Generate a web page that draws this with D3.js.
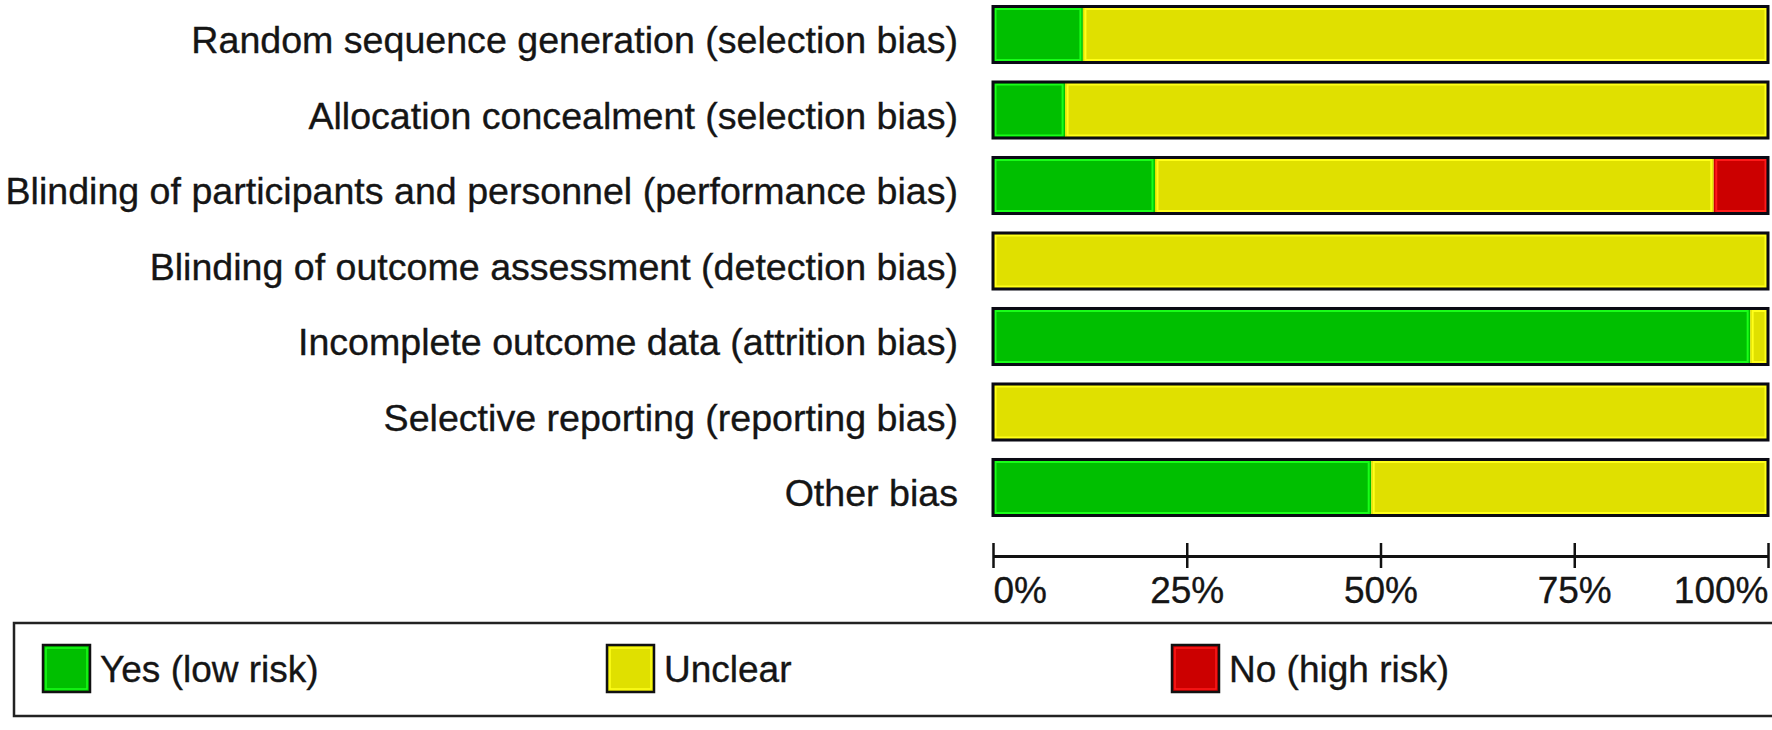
<!DOCTYPE html>
<html><head><meta charset="utf-8">
<script src="https://cdn.jsdelivr.net/npm/d3@7"></script>
<style>
html,body{margin:0;padding:0;background:#fff;overflow:hidden}
text{font-family:"Liberation Sans",Arial,sans-serif;fill:#151515;stroke:#151515;stroke-width:0.35px}
</style></head>
<body>
<svg id="c" width="1772" height="730"></svg>
<script>
const categories = [
  "Random sequence generation (selection bias)",
  "Allocation concealment (selection bias)",
  "Blinding of participants and personnel (performance bias)",
  "Blinding of outcome assessment (detection bias)",
  "Incomplete outcome data (attrition bias)",
  "Selective reporting (reporting bias)",
  "Other bias"
];
const lowRisk   = [11.6, 9.3, 20.9, 0, 97.7, 0, 48.8];
const unclear   = [88.4, 90.7, 72.1, 100, 2.3, 100, 51.2];
const highRisk  = [0, 0, 7.0, 0, 0, 0, 0];
const tickValues = [0, 25, 50, 75, 100];
const tickLabels = ["0%", "25%", "50%", "75%", "100%"];
const legendLabels = ["Yes (low risk)", "Unclear", "No (high risk)"];

const fills = ["#00bf00", "#e0e000", "#cc0000"];
const hilite = ["#19ff19", "#ffff1a", "#ff1a1a"];

const svg = d3.select("#c");
const x = d3.scaleLinear().domain([0, 100]).range([993, 1768]);
const y = d3.scaleBand().domain(categories).range([0, 522])
  .paddingInner(0.258).paddingOuter(0.086);

const series = [lowRisk, unclear, highRisk];
const rows = categories.map((c, i) => {
  let acc = 0;
  return series.map((s, k) => {
    const seg = {cat: c, k, x0: acc, x1: acc + s[i]};
    acc += s[i];
    return seg;
  }).filter(d => d.x1 > d.x0);
});

const g = svg.append("g");
rows.forEach(segs => {
  segs.forEach(d => {
    g.append("rect")
      .attr("x", x(d.x0)).attr("y", y(d.cat))
      .attr("width", x(d.x1) - x(d.x0)).attr("height", y.bandwidth())
      .attr("fill", fills[d.k]);
    g.append("rect")
      .attr("x", x(d.x0) + 2.5).attr("y", y(d.cat) + 2.5)
      .attr("width", Math.max(0, x(d.x1) - x(d.x0) - 5)).attr("height", y.bandwidth() - 5)
      .attr("fill", "none").attr("stroke", hilite[d.k]).attr("stroke-width", 2);
  });
});
g.selectAll("rect.outline").data(categories).enter().append("rect")
  .attr("class", "outline")
  .attr("x", x(0)).attr("y", d => y(d))
  .attr("width", x(100) - x(0)).attr("height", y.bandwidth())
  .attr("fill", "none").attr("stroke", "#0a0a14").attr("stroke-width", 3);

// category labels
svg.selectAll("text.cat").data(categories).enter().append("text")
  .attr("class", "cat")
  .attr("x", 958).attr("y", d => y(d) + y.bandwidth() / 2 + 5)
  .attr("dy", "0.36em").attr("text-anchor", "end")
  .style("font-size", "37.6px").text(d => d);

// axis
const axisY = 556;
const axis = d3.axisBottom(x).tickValues(tickValues).tickSize(0)
  .tickFormat((d, i) => tickLabels[i]);
const ag = svg.append("g").attr("transform", `translate(0,${axisY})`).call(axis);
ag.select(".domain").attr("stroke", "#111").attr("stroke-width", 3);
ag.selectAll(".tick line").attr("y1", -13).attr("y2", 12)
  .attr("stroke", "#111").attr("stroke-width", 2.5);
ag.selectAll(".tick text")
  .attr("y", 47).attr("dy", 0)
  .style("font-size", "37px").style("font-family", '"Liberation Sans",Arial,sans-serif')
  .attr("fill", "#151515")
  .attr("text-anchor", (d, i) => i === 0 ? "start" : (i === tickValues.length - 1 ? "end" : "middle"));

// legend
const lg = svg.append("g");
lg.append("rect").attr("x", 14).attr("y", 623).attr("width", 1780).attr("height", 93)
  .attr("fill", "#fff").attr("stroke", "#222").attr("stroke-width", 2.5);
const legendX = [43, 607, 1172];
legendLabels.forEach((l, i) => {
  lg.append("rect").attr("x", legendX[i]).attr("y", 645).attr("width", 47).attr("height", 47)
    .attr("fill", fills[i]).attr("stroke", "#111").attr("stroke-width", 2.5);
  lg.append("rect").attr("x", legendX[i] + 3).attr("y", 648).attr("width", 41).attr("height", 41)
    .attr("fill", "none").attr("stroke", hilite[i]).attr("stroke-width", 1.5);
  lg.append("text").attr("x", legendX[i] + 57).attr("y", 669).attr("dy", "0.36em")
    .style("font-size", "37px").text(l);
});
</script>
</body></html>
